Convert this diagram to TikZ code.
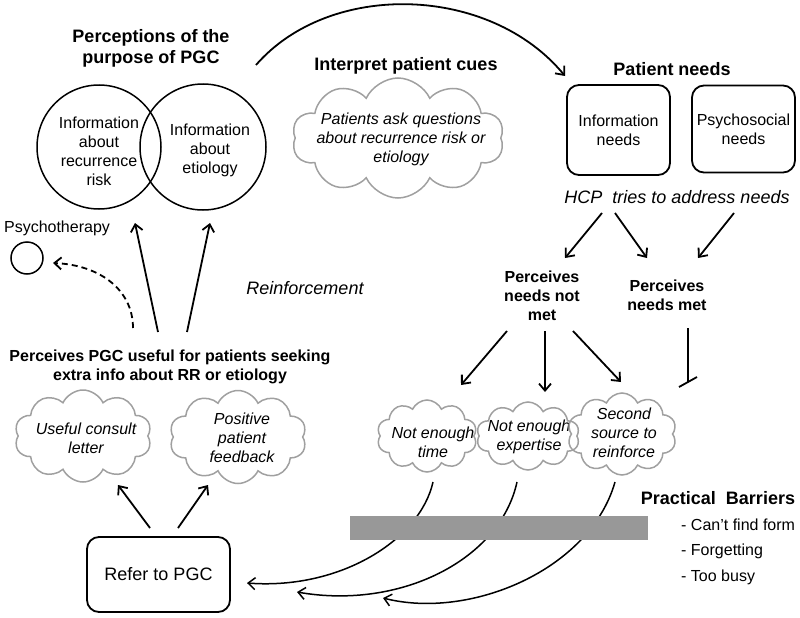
\documentclass[tikz,border=0pt]{standalone}
\usepackage{fontspec}
\setmainfont{Liberation Sans}
\usetikzlibrary{shapes.symbols,arrows.meta}
\definecolor{cloudgray}{RGB}{160,160,160}
\definecolor{bargray}{RGB}{152,152,152}
\begin{document}
\begin{tikzpicture}[x=1pt,y=-1pt,
  arr/.style={line width=1.8pt,-{Straight Barb[length=7pt,width=12pt]}},
  hd/.style={font=\fontsize{18}{21}\selectfont\bfseries,align=center,inner sep=0},
  bd/.style={font=\fontsize{16}{19}\selectfont\bfseries,align=center,inner sep=0},
  txt/.style={font=\fontsize{16}{19}\selectfont,align=center,inner sep=0},
  itx/.style={font=\fontsize{16}{19}\selectfont\itshape,align=center,inner sep=0},
  big/.style={font=\fontsize{18}{21}\selectfont,inner sep=0},
  bigit/.style={font=\fontsize{18}{21}\selectfont\itshape,inner sep=0},
  cloudbox/.style n args={2}{cloud,cloud puffs=10,cloud puff arc=130,cloud ignores aspect,
     draw=cloudgray,line width=1.5pt,inner sep=0,minimum width=#1,minimum height=#2},
  box/.style={draw,line width=1.8pt,rounded corners=12pt,inner sep=0},
  ring/.style={circle,draw,line width=1.5pt,inner sep=0}
]
\useasboundingbox (0,0) rectangle (800,618);

% ---- top left: perceptions
\node[hd] (title) at (151,48) {Perceptions of the\\purpose of PGC};
\node[ring,minimum size=124pt] (vl) at (99,147) {};
\node[ring,minimum size=126pt] (vr) at (203,147) {};
\node[txt] (vlt) at (99,151) {Information\\about\\recurrence\\risk};
\node[txt] (vrt) at (210,150) {Information\\about\\etiology};

% ---- cues
\node[hd] (cues) at (406,66) {Interpret patient cues};
\node[cloudbox={212pt}{120pt},label={[itx,xshift=3pt,yshift=-1pt]center:{Patients ask questions\\about recurrence risk or\\etiology}}] (cuecl) at (398,138) {};

% ---- patient needs
\node[hd] (pn) at (672,69) {Patient needs};
\node[box,txt,minimum width=103pt,minimum height=90pt] (info) at (618.5,130) {Information\\needs};
\node[box,txt,minimum width=103pt,minimum height=87pt] (psy) at (743.5,129) {Psychosocial\\needs};
\node[bigit] (hcp) at (677,197) {HCP\ \ tries to address needs};

\node[bd] (pnm) at (542,296) {Perceives\\needs not\\met};
\node[bd] (pm) at (667,295) {Perceives\\needs met};

% ---- bottom clouds
\node[cloudbox={100pt}{72pt},label={[itx,xshift=6pt,yshift=-6pt]center:{Not enough\\time}}] (c1) at (427,436) {};
\node[cloudbox={103pt}{68pt},label={[itx,xshift=1pt,yshift=-1pt]center:{Not enough\\expertise}}] (c2) at (528,436) {};
\node[cloudbox={109pt}{82pt},label={[itx,xshift=2pt,yshift=1pt]center:{Second\\source to\\reinforce}}] (c3) at (622,434) {};

% ---- practical barriers
\node[hd] (pb) at (718,498) {Practical\ \ Barriers};
\node[txt,anchor=west] (b1) at (681,525) {- Can’t find form};
\node[txt,anchor=west] (b2) at (681,551) {- Forgetting};
\node[txt,anchor=west] (b3) at (681,577) {- Too busy};

% ---- left side
\node[txt] (psyt) at (57,228) {Psychotherapy};
\node[ring,minimum size=32pt] (psyc) at (27,258) {};
\node[bigit] (reinf) at (305,288) {Reinforcement};
\node[bd] (useful) at (170,367) {Perceives PGC useful for patients seeking\\extra info about RR or etiology};
\node[cloudbox={137pt}{92pt},label={[itx,xshift=3pt,yshift=-2pt]center:{Useful consult\\letter}}] (letter) at (83,436) {};
\node[cloudbox={137pt}{93pt},label={[itx,xshift=4pt,yshift=-1pt]center:{Positive\\patient\\feedback}}] (feedback) at (238,437) {};
\node[box,big,minimum width=143pt,minimum height=75pt] (refer) at (158.5,574.5) {Refer to PGC};

% ---- connector end points
\coordinate (arcA) at (256,65);
\coordinate (arcB) at (565,76);
\coordinate (h1a) at (602,213); \coordinate (h1b) at (565,258);
\coordinate (h2a) at (615,213); \coordinate (h2b) at (647,258);
\coordinate (h3a) at (734,213); \coordinate (h3b) at (698,258);
\coordinate (n1a) at (507,331); \coordinate (n1b) at (461,385);
\coordinate (n2a) at (545,331); \coordinate (n2b) at (545,392);
\coordinate (n3a) at (573,331); \coordinate (n3b) at (621,382);
\coordinate (ta) at (688,328); \coordinate (tb) at (688,382);
\coordinate (tl) at (679,387); \coordinate (tr) at (697,377);
\coordinate (k1a) at (433,482); \coordinate (k1b) at (247,583);
\coordinate (k2a) at (517,482); \coordinate (k2b) at (297,592);
\coordinate (k3a) at (615,482); \coordinate (k3b) at (383,598);
\coordinate (da) at (133,328); \coordinate (db) at (53,263);
\coordinate (u1a) at (158,332); \coordinate (u1b) at (135,223);
\coordinate (u2a) at (187,332); \coordinate (u2b) at (210,223);
\coordinate (r1a) at (150,528); \coordinate (r1b) at (118,485);
\coordinate (r2a) at (178,528); \coordinate (r2b) at (208,485);

% ---- connectors
\draw[arr] (arcA) .. controls (330,-20) and (490,-15) .. (arcB);
\draw[arr] (h1a) -- (h1b);
\draw[arr] (h2a) -- (h2b);
\draw[arr] (h3a) -- (h3b);
\draw[arr] (n1a) -- (n1b);
\draw[arr] (n2a) -- (n2b);
\draw[arr] (n3a) -- (n3b);
\draw[line width=1.8pt] (ta) -- (tb);
\draw[line width=1.8pt] (tl) -- (tr);
\draw[arr,line width=1.5pt] (k1a) .. controls (420,540) and (340,590) .. (k1b);
\draw[arr,line width=1.5pt] (k2a) .. controls (500,560) and (400,610) .. (k2b);
\draw[arr,line width=1.5pt] (k3a) .. controls (590,570) and (470,620) .. (k3b);
\node[fill=bargray,minimum width=298pt,minimum height=24pt,inner sep=0] (bar) at (499,528) {};
\draw[arr,dashed,dash pattern=on 6pt off 4pt] (da) .. controls (133,290) and (100,265) .. (db);
\draw[arr] (u1a) -- (u1b);
\draw[arr] (u2a) -- (u2b);
\draw[arr] (r1a) -- (r1b);
\draw[arr] (r2a) -- (r2b);
\end{tikzpicture}
\end{document}
